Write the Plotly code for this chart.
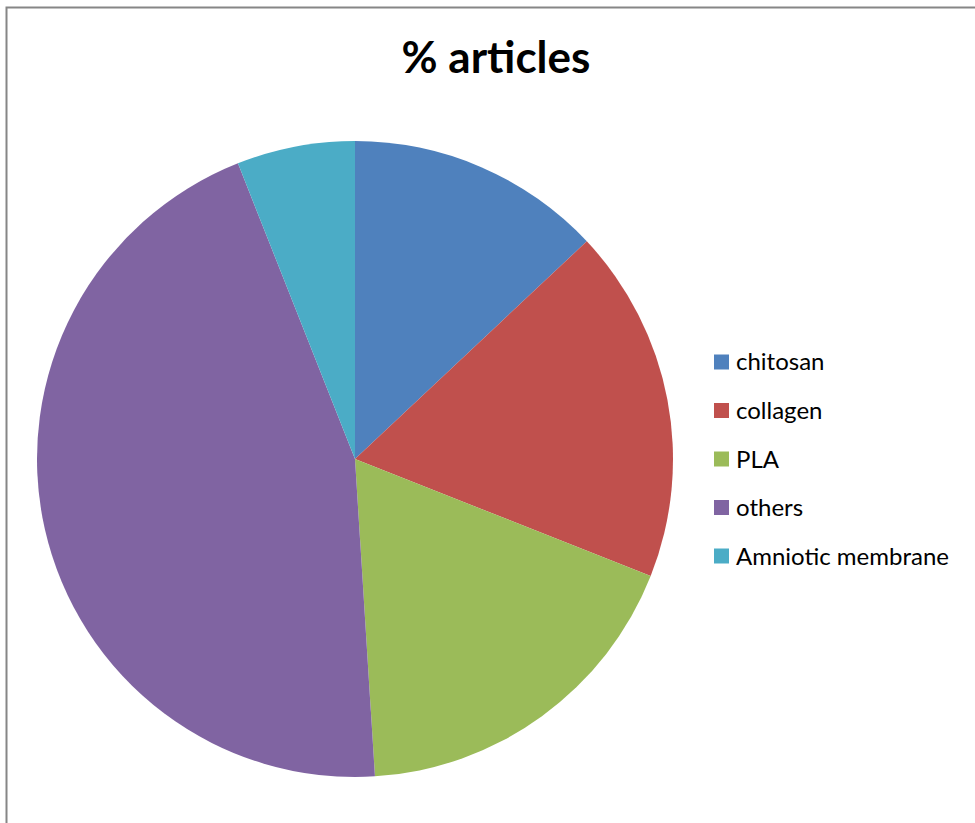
import plotly.graph_objects as go

labels = ["chitosan", "collagen", "PLA", "others", "Amniotic membrane"]
values = [13, 18, 18, 45, 6]
colors = ["#4F81BD", "#C0504D", "#9BBB59", "#8064A2", "#4BACC6"]
title_text = "% articles"

W, H = 975, 823
fig = go.Figure()

cx, cy, r = 355, 459, 318
fig.add_trace(go.Pie(
    labels=labels, values=values, sort=False, direction="clockwise", rotation=0,
    marker=dict(colors=colors, line=dict(width=0)),
    textinfo="none", hoverinfo="label+value", showlegend=False,
    domain=dict(x=[(cx - r) / W, (cx + r) / W], y=[1 - (cy + r) / H, 1 - (cy - r) / H]),
))

shapes = [dict(type="rect", xref="paper", yref="paper",
               x0=6.5 / W, x1=1.02, y0=-0.02, y1=1 - 7.5 / H,
               line=dict(color="#868686", width=2), fillcolor="rgba(0,0,0,0)")]
annotations = []
lx, ly0, gap = 714, 362, 48.5
for i, (lab, col) in enumerate(zip(labels, colors)):
    yc = ly0 + i * gap
    shapes.append(dict(type="rect", xref="paper", yref="paper",
                       x0=lx / W, x1=(lx + 15) / W,
                       y0=1 - (yc + 7.5) / H, y1=1 - (yc - 7.5) / H,
                       fillcolor=col, line=dict(width=0)))
    annotations.append(dict(text=lab, xref="paper", yref="paper",
                            x=(lx + 20) / W, y=1 - (yc - 1) / H, xanchor="left", yanchor="middle",
                            showarrow=False, font=dict(family="Lato", size=24, color="#000000")))

fig.update_layout(
    width=W, height=H, margin=dict(l=0, r=0, t=0, b=0),
    paper_bgcolor="white", plot_bgcolor="white",
    title=dict(text="<b>" + title_text + "</b>", x=496 / W, xanchor="center",
               y=1 - 58 / H, yanchor="middle", yref="container",
               font=dict(family="Lato", size=44, color="#000000")),
    shapes=shapes, annotations=annotations,
)
fig.write_html("out.html")
